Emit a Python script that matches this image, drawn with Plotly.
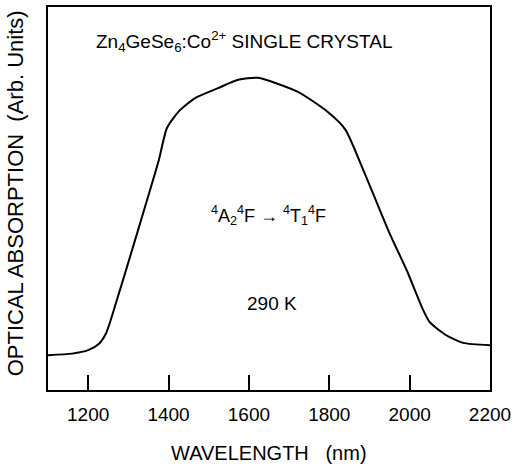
import plotly.graph_objects as go

wavelength = [1100, 1160, 1200, 1227, 1244, 1256, 1326, 1375, 1396, 1425, 1466,
              1523, 1573, 1622, 1721, 1795, 1840, 1886, 1951, 1993, 2034, 2050,
              2091, 2133, 2200]
absorption = [0.091, 0.095, 0.104, 0.121, 0.147, 0.182, 0.424, 0.597, 0.684,
              0.727, 0.762, 0.788, 0.810, 0.815, 0.779, 0.727, 0.680, 0.571,
              0.407, 0.312, 0.208, 0.177, 0.143, 0.123, 0.117]
x_ticks = [1200, 1400, 1600, 1800, 2000, 2200]

FONT = "Liberation Sans, Arial, sans-serif"
W, H = 516, 467
L, R, T, B = 48, 22, 5, 77
PW, PH = W - L - R, H - T - B


def px(x, y):
    """pixel position in the page -> paper coordinates"""
    return (x - L) / PW, (H - y - B) / PH


fig = go.Figure()
fig.add_trace(go.Scatter(x=wavelength, y=absorption, mode="lines",
                         line=dict(color="black", width=2, shape="spline", smoothing=0.6),
                         showlegend=False, hoverinfo="skip"))

texts = [
    ("Zn<sub>4</sub>GeSe<sub>6</sub>:Co<sup>2+</sup> SINGLE CRYSTAL", 246, 40, 19, 0),
    ("WAVELENGTH   (nm)", 271, 453, 20, 0),
    ("OPTICAL ABSORPTION  (Arb. Units)", 15, 192, 22, -90),
    ("<sup>4</sup>A<sub>2</sub><sup>4</sup>F \u2192 <sup>4</sup>T<sub>1</sub><sup>4</sup>F",
     270, 215, 18, 0),
    ("290 K", 274, 303, 19, 0),
]
annotations = []
for txt, x, y, size, ang in texts:
    ax, ay = px(x, y)
    annotations.append(dict(text=txt, x=ax, y=ay, xref="paper", yref="paper",
                            xanchor="center", yanchor="middle", textangle=ang,
                            showarrow=False, font=dict(size=size)))

fig.update_layout(
    width=W, height=H,
    margin=dict(l=L, r=R, t=T, b=B),
    paper_bgcolor="white", plot_bgcolor="white",
    font=dict(family=FONT, color="black"),
    xaxis=dict(range=[1100, 2200], tickvals=x_ticks, ticks="inside", ticklen=15,
               tickwidth=2, tickcolor="black", showline=True, linecolor="black",
               linewidth=2, mirror=True, showgrid=False, zeroline=False,
               ticklabelstandoff=6, tickfont=dict(size=19, family=FONT)),
    yaxis=dict(range=[0, 1], showticklabels=False, ticks="", showline=True,
               linecolor="black", linewidth=2, mirror=True, showgrid=False,
               zeroline=False),
    annotations=annotations,
)

fig.write_html("out.html", config={"displayModeBar": False},
               post_script="document.body.style.margin='0';")
